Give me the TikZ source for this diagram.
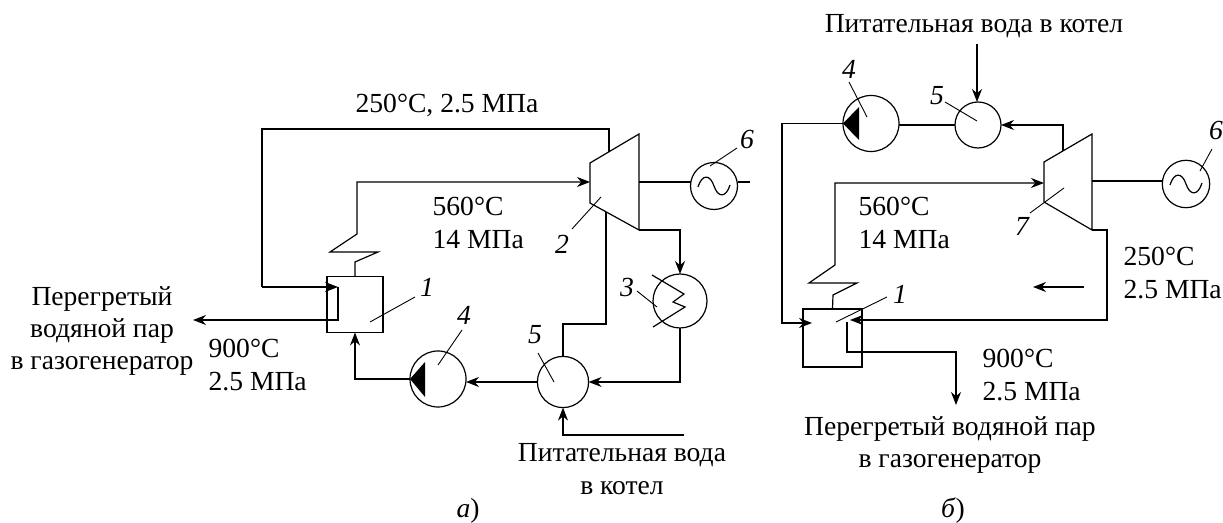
\documentclass[tikz,border=0pt]{standalone}
\usepackage{fontspec}
\setmainfont{Liberation Serif}
\usetikzlibrary{arrows.meta}
\tikzset{
  eqp/.style={draw, circle, inner sep=0pt, outer sep=0pt},
  boiler/.style={draw, rectangle, inner sep=0pt, outer sep=0pt, minimum width=28pt, minimum height=28pt},
  flow/.style={-{Stealth[length=6.5pt,width=5pt]}},
  leader/.style={line width=0.45pt},
  num/.style={font=\fontsize{13.8}{16}\selectfont\itshape, inner sep=0pt},
  txt/.style={font=\fontsize{13.8}{16.2}\selectfont, inner sep=0pt, align=center},
  txtl/.style={font=\fontsize{13.8}{16.2}\selectfont, inner sep=0pt, align=left, anchor=west},
  sinewave/.pic={\draw (-16,1) .. controls (-12,-12) and (-4,-12) .. (0,0)
                       .. controls (4,12) and (12,12) .. (16,-1);}
}
\begin{document}
\begin{tikzpicture}[x=0.5pt, y=-0.5pt, line width=0.6pt]
  \useasboundingbox (0,0) rectangle (1223,523);

  % Scheme a: equipment
  \node[boiler] (boilerA) at (355,304.5) {};
  \node[eqp, minimum size=28pt] (pumpA) at (438,379) {};
  \node[eqp, minimum size=25.6pt] (mixA) at (563,382) {};
  \node[eqp, minimum size=27pt] (condA) at (680,301) {};
  \node[eqp, minimum size=23.5pt] (genA) at (714,186) {};
  \pic at (genA) {sinewave};
  \coordinate (turbA1) at (590,163);
  \coordinate (turbA2) at (639,134);
  \coordinate (turbA3) at (639,230);
  \coordinate (turbA4) at (590,203);
  \draw (turbA1) -- (turbA2) -- (turbA3) -- (turbA4) -- cycle;
  \fill (pumpA.west) -- (425,362) -- (425,397) -- cycle;
  \draw (652,275) -- (684,294) -- (673,302) -- (685,307) -- (653,327);

  % Scheme a: free ends and junctions
  \coordinate (bleedA) at (609,152);
  \coordinate (inA) at (590,182);
  \coordinate (shaftA) at (639,182);
  \coordinate (stubA) at (750,182);
  \coordinate (lowA) at (606,212);
  \coordinate (retA) at (262,287);
  \coordinate (coilA) at (338,287);
  \coordinate (outA) at (193,320);
  \coordinate (feedA) at (684,435);

  % Scheme a: flows
  \draw (bleedA) |- (262,129) -- (retA);
  \draw[flow] (retA) -- (coilA);
  \draw[flow] (coilA) |- (outA);
  \draw[flow] (boilerA.north) -- (355,262) -- (378,252) -- (330,252) -- (357,234) |- (inA);
  \draw (shaftA) -- (shaftA -| genA.west);
  \draw (shaftA -| genA.east) -- (stubA);
  \draw[flow] (turbA3) -| (condA.north);
  \draw[flow] (condA.south) |- (mixA.east);
  \draw (lowA) |- (563,324) -- (mixA.north);
  \draw[flow] (feedA) -| (mixA.south);
  \draw[flow] (mixA.west) -- (mixA.west -| pumpA.east);
  \draw[flow] (pumpA.west) -| (boilerA.south);

  % Scheme a: numbers
  \node[num] (n1A) at (427,287) {1};
  \node[num] (n2A) at (562,244) {2};
  \node[num] (n3A) at (627,288) {3};
  \node[num] (n4A) at (464,315) {4};
  \node[num] (n5A) at (535,335) {5};
  \node[num] (n6A) at (747,140) {6};
  \draw[leader] (370,322) -- (415,297);
  \draw[leader] (601,197) -- (572,229);
  \draw[leader] (637,291) -- (657,307);
  \draw[leader] (438,365) -- (462,330);
  \draw[leader] (554,382) -- (538,353);
  \draw[leader] (710,166) -- (737,148);

  % Scheme a: text
  \node[txtl] (t250A) at (355,105) {250°C, 2.5 МПа};
  \node[txtl] (t560A) at (432,223) {560°C\\14 МПа};
  \node[txtl] (t900A) at (208,365) {900°C\\2.5 МПа};
  \node[txt] (steamA) at (102,331) {Перегретый\\водяной пар\\в газогенератор};
  \node[txt] (waterA) at (622,469) {Питательная вода\\в котел};
  \node[txt] (capA) at (468,511) {\textit{а})};

  % Scheme b: equipment
  \node[boiler, minimum width=29.5pt, minimum height=29pt] (boilerB) at (832.5,338) {};
  \node[eqp, minimum size=28pt] (pumpB) at (871,123.5) {};
  \node[eqp, minimum size=23pt] (mixB) at (978,125) {};
  \node[eqp, minimum size=23.7pt] (genB) at (1186,184) {};
  \pic at (genB) {sinewave};
  \coordinate (turbB1) at (1044,162);
  \coordinate (turbB2) at (1092,134);
  \coordinate (turbB3) at (1092,230);
  \coordinate (turbB4) at (1044,202);
  \draw (turbB1) -- (turbB2) -- (turbB3) -- (turbB4) -- cycle;
  \fill (pumpB.west) -- (859,107) -- (859,140) -- cycle;

  % Scheme b: free ends and junctions
  \coordinate (bleedB) at (1063,151);
  \coordinate (inB) at (1044,183);
  \coordinate (shaftB) at (1092,181);
  \coordinate (retB) at (812,323);
  \coordinate (coilB) at (850,320);
  \coordinate (outB) at (956,405);
  \coordinate (feedB) at (977,44);
  \coordinate (markA) at (1084,287);
  \coordinate (markB) at (1033,287);

  % Scheme b: flows
  \draw[flow] (feedB) -- (feedB |- mixB.north);
  \draw (mixB.west -| pumpB.east) -- (mixB.west);
  \draw[flow] (bleedB) |- (mixB.east);
  \draw[flow] (pumpB.west) -| (782,323) -- (retB);
  \draw[flow] (boilerB.north) -- (833,295) -- (857,283) -- (809,283) -- (835,265) |- (inB);
  \draw (shaftB) -- (shaftB -| genB.west);
  \draw[flow] (turbB3) -- (1107,230) |- (coilB);
  \draw[flow] (847,322) |- (956,352) -- (outB);
  \draw[flow] (markA) -- (markB);

  % Scheme b: numbers
  \node[num] (n1B) at (900,294) {1};
  \node[num] (n4B) at (849,69) {4};
  \node[num] (n5B) at (937,96) {5};
  \node[num] (n6B) at (1216,131) {6};
  \node[num] (n7B) at (1022,226) {7};
  \draw[leader] (836,322) -- (887,297);
  \draw[leader] (867,117) -- (849,82);
  \draw[leader] (977,121) -- (945,102);
  \draw[leader] (1200,171) -- (1212,149);
  \draw[leader] (1064,188) -- (1030,213);

  % Scheme b: text
  \node[txt] (waterB) at (974,26) {Питательная вода в котел};
  \node[txtl] (t560B) at (858,223) {560°C\\14 МПа};
  \node[txtl] (t250B) at (1123,273) {250°C\\2.5 МПа};
  \node[txtl] (t900B) at (982,375) {900°C\\2.5 МПа};
  \node[txt] (steamB) at (950,445) {Перегретый водяной пар\\в газогенератор};
  \node[txt] (capB) at (953,511) {\textit{б})};
\end{tikzpicture}
\end{document}
